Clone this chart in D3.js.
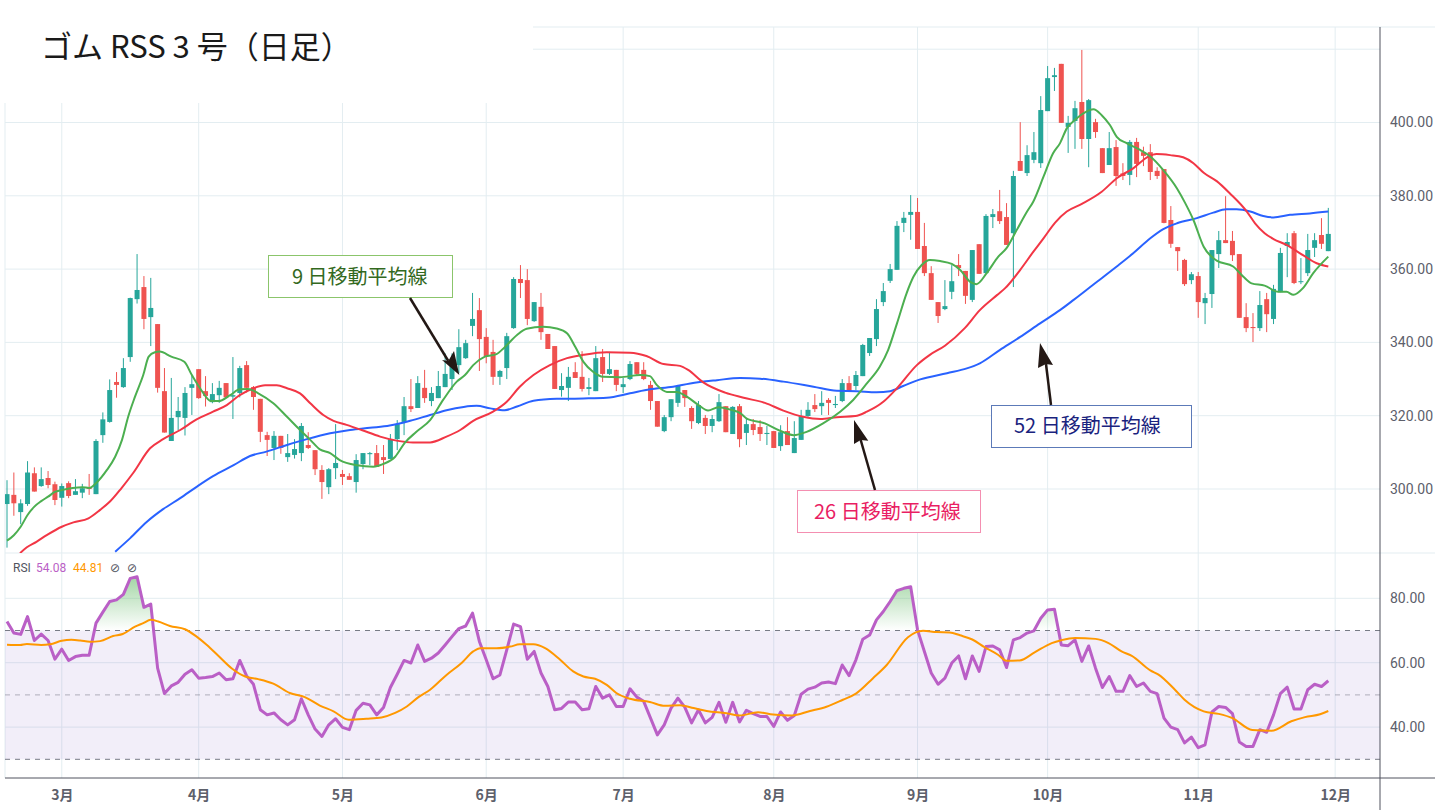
<!DOCTYPE html>
<html>
<head>
<meta charset="utf-8">
<script src="https://cdn.jsdelivr.net/npm/d3@7"></script>
<style>
html, body { margin: 0; padding: 0; background: #fff; overflow: hidden; }
</style>
</head>
<body>
<script>
var opens = [
  295.9,298.4,293.7,295.9,304.3,300.8,303.0,301.3,297.6,301.6,
  298.4,299.0,300.5,298.6,314.7,318.3,329.2,327.8,336.0,351.8,
  355.1,346.9,345.0,326.7,313.1,319.6,319.4,327.6,332.7,326.7,
  323.7,325.6,328.9,325.2,326.2,333.8,327.8,324.6,314.7,311.2,
  314.5,308.7,309.3,309.8,312.0,310.6,305.2,300.5,305.7,304.1,
  303.5,301.9,306.8,309.5,309.8,308.7,308.2,313.6,318.3,322.6,
  322.1,327.6,324.0,324.8,327.8,330.0,333.8,335.7,344.5,348.8,
  341.5,337.4,330.6,333.0,343.9,357.3,357.0,345.8,349.7,342.3,
  339.0,327.0,327.6,331.9,330.6,327.3,326.7,336.0,331.4,332.5,
  327.8,330.0,334.6,332.5,328.4,324.0,315.8,319.6,323.5,327.0,
  322.1,318.0,319.4,317.2,318.5,322.6,315.0,322.6,315.3,317.7,
  316.9,315.0,315.8,311.7,315.8,309.8,313.4,319.9,322.9,322.6,
  324.3,322.9,324.0,328.9,328.1,330.8,337.1,340.9,351.0,356.8,
  359.8,372.6,374.8,375.6,366.3,358.9,351.0,349.1,353.8,361.1,
  359.5,351.6,366.8,358.9,374.2,375.8,374.2,369.8,389.5,386.2,
  389.8,388.9,403.1,412.4,416.0,398.8,400.4,405.6,395.5,400.1,
  393.0,388.4,393.3,386.1,385.7,394.7,391.9,391.9,386.8,387.3,
  373.4,366.0,362.5,357.0,358.1,350.7,353.2,364.1,367.9,367.7,
  364.1,346.9,344.2,343.9,351.8,346.4,353.7,366.3,369.8,356.5,
  358.9,365.8,369.3,364.9
];
var highs = [
  302.4,304.5,297.2,307.6,305.9,305.9,304.9,302.0,301.5,302.1,
  302.7,301.4,304.1,313.6,320.9,329.9,331.9,335.7,352.2,364.1,
  358.1,357.6,345.0,333.0,330.3,325.1,327.8,331.1,332.7,330.8,
  328.9,329.5,328.9,336.0,333.6,334.9,328.1,324.6,315.6,315.8,
  314.5,315.0,313.6,318.0,315.5,310.6,306.5,305.7,317.7,305.2,
  304.3,309.5,309.8,310.1,312.0,312.0,315.0,318.8,325.1,330.0,
  330.8,332.5,327.8,332.2,337.0,337.0,343.6,340.7,353.5,352.1,
  343.9,340.7,332.5,342.6,357.8,361.1,360.0,351.0,353.5,342.3,
  339.0,331.6,333.3,334.6,337.6,330.3,339.0,338.2,337.4,332.5,
  330.3,334.9,334.6,334.6,329.5,324.0,320.2,324.5,328.4,327.0,
  322.6,324.0,320.2,320.2,325.9,322.6,322.6,323.2,319.4,319.1,
  318.8,317.2,315.8,317.4,319.6,318.5,321.6,323.7,325.9,326.7,
  324.8,325.4,330.0,330.8,332.2,339.6,341.2,351.8,356.2,361.4,
  373.1,375.6,380.2,379.4,372.6,360.8,351.0,357.0,361.1,364.1,
  359.5,365.2,366.8,375.0,376.4,381.6,378.0,386.8,400.1,393.8,
  397.4,407.2,415.4,414.9,416.0,401.8,405.9,419.8,406.4,401.0,
  393.0,397.4,395.2,388.9,395.2,395.8,393.4,394.1,387.8,387.3,
  377.2,366.0,362.8,359.2,359.2,353.5,365.2,370.4,379.9,370.4,
  364.1,350.7,348.0,354.0,353.5,355.7,365.8,369.8,370.4,363.0,
  369.6,369.8,373.9,376.7
];
var lows = [
  284.0,292.7,290.4,295.4,299.3,300.6,300.2,295.6,295.2,297.5,
  298.4,297.5,298.4,298.6,312.6,318.1,324.9,327.6,334.7,350.6,
  343.6,339.0,326.3,315.4,313.1,316.1,314.6,320.2,324.6,322.5,
  323.4,323.5,325.0,319.1,325.0,326.3,321.6,312.8,309.0,307.9,
  309.6,307.4,308.3,307.6,310.9,303.8,297.3,298.6,302.7,301.1,
  302.5,299.0,305.4,306.5,306.0,304.1,308.2,310.6,314.7,321.0,
  322.1,323.5,322.6,324.8,327.8,327.0,331.6,335.5,341.7,332.2,
  334.3,328.4,328.4,330.0,343.7,352.1,344.7,345.6,340.7,338.2,
  327.3,325.2,324.0,330.3,326.6,325.6,326.7,329.2,331.1,326.7,
  326.2,329.7,331.1,329.7,321.6,317.0,315.5,318.5,322.4,322.4,
  316.4,317.7,315.0,315.5,318.3,315.5,315.0,311.4,312.0,314.7,
  313.1,312.0,311.2,310.4,312.0,309.8,313.4,319.7,321.0,320.2,
  320.2,322.1,323.7,326.5,327.0,330.8,336.3,339.0,349.9,356.2,
  359.8,370.1,368.0,365.5,358.1,351.6,345.3,348.8,351.8,358.1,
  350.5,351.0,358.7,358.8,371.2,372.3,366.6,355.1,386.8,385.4,
  388.9,387.6,403.1,408.6,399.9,391.7,392.8,392.8,387.8,395.8,
  386.2,388.4,382.7,384.3,382.9,385.1,388.1,384.3,384.6,372.5,
  365.8,359.5,355.4,355.9,346.7,345.0,349.4,360.3,367.1,362.2,
  346.7,342.8,340.1,343.1,342.8,345.0,353.7,357.8,355.9,355.9,
  358.1,363.3,365.5,364.9
];
var closes = [
  298.6,296.1,296.1,304.5,299.3,302.7,301.1,297.0,300.8,298.1,
  299.4,300.2,300.0,313.1,319.0,327.0,328.4,333.0,352.1,354.3,
  346.4,349.4,327.6,315.4,319.4,321.3,326.2,328.6,324.8,325.4,
  325.9,327.6,325.0,325.6,333.0,327.6,325.1,315.6,313.4,314.5,
  311.2,309.8,310.9,317.2,311.2,305.4,301.9,305.4,307.1,303.3,
  302.5,307.9,309.8,309.8,306.0,307.9,313.6,317.7,322.6,321.8,
  328.9,324.8,326.2,328.1,331.4,333.8,338.7,339.8,346.4,340.9,
  336.3,330.6,332.2,341.7,357.3,356.2,346.4,351.0,342.8,338.2,
  327.3,328.1,330.6,330.3,327.3,327.8,335.7,331.4,332.7,328.4,
  328.6,334.1,331.4,330.0,324.0,317.0,319.6,324.5,328.1,324.8,
  318.5,322.9,317.2,319.1,323.7,315.5,322.4,313.6,317.7,316.1,
  315.0,315.3,311.2,315.5,312.0,313.9,319.9,321.6,321.8,323.5,
  323.5,323.2,328.9,326.5,331.1,339.3,341.2,349.1,354.0,360.0,
  371.8,374.0,375.6,365.5,358.9,351.6,347.2,349.9,356.7,360.3,
  352.7,365.2,358.7,374.5,375.0,373.1,366.6,385.4,386.8,391.1,
  391.9,403.4,412.1,412.9,399.9,399.9,403.9,395.5,406.1,397.4,
  386.2,393.0,385.4,385.4,394.7,388.7,390.9,386.5,385.4,372.6,
  366.9,364.9,355.9,358.6,351.0,352.1,365.2,367.9,367.1,363.8,
  346.7,343.9,343.9,350.2,347.7,354.6,364.4,367.4,356.2,356.7,
  365.2,367.9,366.9,369.6
];

// moving averages at the bar positions below
var ma9Bars = [0,1,2,3,4,5,6,7,8,9.6,11,12,13,14.6,15.8,16.8,17.7,18.7,19.9,20.7,21.6,22.3,24,25.9,27,28.2,29.8,30.9,32.6,34,35.2,36.7,38.9,40.9,42.8,44.3,45.7,47.2,48.6,51.1,53.5,54.9,56.7,58.1,59.8,61.8,63.7,65.7,66.9,68.1,69.8,71.5,72.7,74.5,75.9,78.3,80.3,81.8,83,84.2,85.6,87.1,89.5,92.5,93.9,94.9,96.4,97.8,99.3,101,102.4,103.9,105.6,107.1,108,110.7,112.9,114.9,116.8,119.2,121.7,123.6,125.6,127.5,128.7,130,131.4,132.4,133.6,134.8,136.3,138,139.2,140.7,141.6,143.1,144.8,146,147.5,149,149.9,151.4,152.8,153.8,154.8,156,157.4,158.7,159.9,161.1,162.1,163.6,165.5,167,168.9,170.9,172.1,173.3,174.8,176.7,179.1,180.6,181.8,183.7,185.7,186.9,187.9,189.3,190.8,193];
var ma9Values = [285.9,287.4,289.7,292.9,295.2,296.7,297.9,299.2,299.7,300.3,300.5,300.3,301.6,305.2,308.8,313.4,319.7,325.2,331.1,336.1,337.3,337.5,336.1,334.7,331.1,327.5,324.0,324.0,325.6,327.2,327.3,326.1,323.4,319.7,316.1,313.4,310.8,309.8,307.9,306.5,306.1,306.8,308.8,312.6,315.6,318.8,324.3,329.3,331.1,333.8,336.1,336.8,338.7,342.0,343.7,344.3,343.8,342.5,338.8,334.7,332.0,330.6,330.5,331.1,330.8,328.4,326.5,326.5,325.2,322.9,321.4,322.3,321.7,320.7,319.3,317.9,315.9,314.7,315.6,317.9,321.1,324.3,328.8,333.4,337.9,345.2,353.4,357.9,361.1,362.5,362.2,361.4,359.8,356.5,355.9,358.9,363.4,365.7,370.7,375.7,378.4,385.2,391.6,394.3,398.4,400.7,402.7,403.6,402.0,399.3,396.1,394.3,392.5,390.7,387.0,382.0,378.0,373.4,366.1,362.3,360.7,357.9,356.1,355.5,353.8,353.8,353.0,354.8,358.9,363.4];

var ma26Bars = [1.9,2.9,4.3,5.8,8,9.7,11.9,13.6,15,16.7,18.4,20.9,22.8,25.3,27.7,30.1,32.1,34,36,37.7,39.4,40.9,42.8,44.3,46.2,47.7,49.6,51.8,54.5,56.9,59.3,61.8,64.2,66.2,68.1,71,73,74.9,76.9,79.3,81.8,84.2,87.6,91,93.4,95.9,98.3,99.5,101.7,104.9,107.6,110.7,113.4,116.3,118.8,121.2,123.9,125.6,128,130,132.9,134.8,137,139.9,142.1,144.6,145.8,148,149.9,151.4,153.1,154.8,157,159.9,162.1,164.5,166.7,167.9,169.9,171.8,173.3,174.8,176.7,178.6,181.1,182.3,183.7,185,186.9,189.3,191.3,193];
var ma26Values = [282.5,284.1,285.6,287.4,289.7,290.9,292.0,294.3,296.5,300.2,304.3,311.1,313.6,316.1,319.0,321.1,322.9,325.6,327.5,328.3,328.3,327.5,326.1,323.4,320.2,318.6,317.5,316.1,314.3,313.2,312.7,312.7,314.3,316.1,318.6,321.1,323.8,327.9,331.1,333.8,335.7,336.6,337.3,337.2,336.3,334.1,333.6,332.5,329.1,326.3,324.9,323.5,321.4,319.7,319.1,319.6,319.9,321.1,323.8,327.5,333.8,336.6,339.1,343.9,348.8,352.9,354.8,359.8,364.7,368.4,372.7,375.7,377.8,381.1,384.8,387.5,390.7,391.4,391.1,390.5,388.9,386.3,384.0,380.7,375.7,372.5,369.8,368.2,366.6,363.8,361.6,360.7];

var ma52Bars = [15.8,18,20.4,22.8,25.3,27.7,30.1,33.1,35.5,37.9,40.9,43.8,47.2,50.1,53,55.9,58.9,61.8,64.2,66.7,68.6,70.6,72.7,74.5,76.9,80.3,84.2,87.6,91,93.9,97.3,99.8,103.7,107.1,110,113.4,117.8,121.2,124.1,127,129,130.9,133.4,137.3,140.2,142.1,145,148,150.9,153.8,155.8,158.7,162.1,164.5,167,168.9,170.9,173.8,176.2,178.1,179.6,181.6,183.5,185,187.4,190.3,193];
var ma52Values = [282.9,286.6,291.0,294.5,297.5,300.6,303.5,306.5,309.0,310.2,312.0,313.6,315.2,316.1,316.7,317.3,318.6,320.2,321.5,322.4,322.7,322.0,321.5,322.5,324.1,324.6,324.7,324.9,326.1,327.2,327.9,328.8,329.7,330.3,330.1,329.3,327.9,326.8,326.7,326.4,326.7,328.1,329.9,331.6,332.9,334.3,337.9,341.5,345.2,348.8,351.6,355.8,360.7,364.3,368.4,370.9,372.5,373.9,375.4,376.3,376.3,375.7,374.5,374.1,374.8,375.2,375.7];

var rsiValues = [
  72.8,69.2,68.8,74.3,66.9,68.9,66.9,61.1,64.2,60.7,
  61.9,62.3,62.3,72.3,75.7,79.0,79.5,81.2,86.2,86.7,
  77.2,78.2,58.3,50.4,52.8,53.9,56.4,57.8,55.2,55.4,
  55.7,56.8,54.7,55.0,60.7,55.9,53.3,45.4,43.8,44.4,
  42.3,40.7,42.3,48.8,43.8,39.4,37.1,40.7,42.6,39.9,
  39.2,45.2,47.4,46.9,43.8,46.1,52.3,56.4,60.7,59.9,
  65.5,60.4,61.4,63.0,65.5,68.1,70.6,71.4,75.4,66.6,
  60.9,55.0,56.2,64.0,72.0,71.2,61.1,63.5,56.8,52.6,
  45.4,45.8,47.8,47.8,45.4,45.7,52.6,49.0,50.0,46.4,
  46.4,51.9,49.3,48.0,42.8,37.6,40.7,45.9,49.0,46.2,
  41.3,45.4,41.3,43.0,47.7,41.5,47.7,41.6,45.2,44.2,
  43.3,43.3,40.2,44.7,42.1,43.6,50.2,51.8,52.4,53.7,
  54.0,53.5,59.3,56.0,60.9,67.3,68.6,73.3,75.9,79.0,
  82.4,83.1,83.6,70.2,63.5,56.8,53.3,55.2,59.9,62.1,
  55.0,62.1,57.3,65.0,65.2,64.0,58.5,67.1,67.8,69.2,
  69.9,73.8,76.4,76.6,65.5,65.3,67.1,60.4,65.2,58.3,
  52.3,55.7,51.1,51.1,56.0,52.6,53.7,51.1,50.4,42.8,
  40.0,39.2,35.1,36.9,33.6,34.5,44.7,46.4,46.1,44.2,
  35.4,34.0,34.0,39.2,38.4,43.8,50.4,52.4,45.6,45.6,
  51.6,53.3,52.6,54.4
];
var rsiMaBars = [0,1.9,2.9,5,6.3,8,9.4,10.7,12.1,13.6,15.5,16.9,18.7,19.9,21,22.1,23.8,26,27.7,29.2,30.9,32.8,34.8,36.7,38.9,41.3,43.5,45.7,47.7,49.9,52.5,54.7,56.7,58.4,60.1,61.8,64.2,66.4,68.1,69.1,71.5,73.5,74.9,76.9,78.6,80.8,82.7,84.2,85.9,87.6,89,91,93.9,96.1,98.3,100.3,102.2,105.1,107,109.7,111.9,114.6,117.3,119.7,122.1,124,126.5,128.5,131.6,133.8,135.8,137.7,139.2,141,142.8,144.8,146,147.9,150.1,152.6,154,156,159,160.9,162.8,164.3,167,168.2,170.6,172,174.8,177,179,181.9,184.7,187.6,189.6,191.8,193];
var rsiMaValues = [65.6,65.5,65.8,65.5,65.7,66.8,67.1,66.9,66.5,66.7,68.3,68.9,71.2,72.3,73.3,72.8,71.4,70.4,68.1,65.5,62.1,58.3,55.7,54.9,53.5,50.6,49.3,46.7,44.9,42.3,42.6,43.0,44.4,46.4,49.3,51.6,56.2,59.9,63.5,64.5,64.5,65.0,65.7,65.7,64.5,60.9,57.3,55.7,55.0,53.1,50.6,48.8,47.8,46.6,46.8,45.9,45.0,44.3,43.6,44.6,43.9,43.6,45.0,46.3,48.5,50.4,55.2,59.3,67.9,69.9,69.5,69.4,68.5,67.2,64.8,62.4,60.6,60.7,63.2,66.1,67.0,67.7,67.4,66.1,63.5,62.1,57.6,56.3,51.6,48.5,44.9,44.1,42.8,39.1,38.9,41.8,43.1,44.0,45.0];

var priceTicks = [300, 320, 340, 360, 380, 400];
var priceGrid = [300, 320, 340, 360, 380, 400, 420];
var rsiTicks = [40, 60, 80];
var rsiLevels = [30, 50, 70];
var monthBars = [8, 28, 49, 70, 90, 112, 133, 152, 174, 194];
var monthLabels = ['3月', '4月', '5月', '6月', '7月', '8月', '9月', '10月', '11月', '12月'];

var WIDTH = 1435, HEIGHT = 810;
var LEFT = 5, RIGHT = 1380, TOP = 27;
var PANE_BOTTOM = 553, AXIS_Y = 778;
var BODY_WIDTH = 5;
var UP = '#26a69a', DOWN = '#ef5350';
var GRID = '#e3edf1';
var CJK = '"Noto Sans CJK JP", sans-serif';

var svg = d3.select('body').append('svg')
  .attr('width', WIDTH)
  .attr('height', HEIGHT)
  .style('display', 'block');

var x = d3.scaleLinear().domain([0, 193]).range([7, 1328.3]);
var y = d3.scaleLinear().domain([300, 400]).range([489, 122.5]);
var yRsi = d3.scaleLinear().domain([30, 80]).range([759.3, 598.3]);

var defs = svg.append('defs');
defs.append('clipPath').attr('id', 'pane')
  .append('rect')
    .attr('x', LEFT).attr('y', TOP)
    .attr('width', RIGHT - LEFT).attr('height', PANE_BOTTOM - TOP);
defs.append('clipPath').attr('id', 'overbought')
  .append('rect')
    .attr('x', LEFT).attr('y', PANE_BOTTOM)
    .attr('width', RIGHT - LEFT).attr('height', yRsi(70) - PANE_BOTTOM);
var grad = defs.append('linearGradient').attr('id', 'obFill')
  .attr('gradientUnits', 'userSpaceOnUse')
  .attr('x1', 0).attr('x2', 0)
  .attr('y1', 578).attr('y2', yRsi(70));
grad.append('stop').attr('offset', 0).attr('stop-color', '#4caf50').attr('stop-opacity', .5);
grad.append('stop').attr('offset', 1).attr('stop-color', '#4caf50').attr('stop-opacity', 0);

// grid
svg.append('g').selectAll('line')
  .data(monthBars)
  .enter().append('line')
    .attr('x1', function (d) { return x(d); })
    .attr('x2', function (d) { return x(d); })
    .attr('y1', TOP).attr('y2', AXIS_Y)
    .style('stroke', GRID);
svg.append('g').selectAll('line')
  .data(priceGrid)
  .enter().append('line')
    .attr('x1', LEFT).attr('x2', RIGHT)
    .attr('y1', function (d) { return y(d); })
    .attr('y2', function (d) { return y(d); })
    .style('stroke', GRID);
svg.append('g').selectAll('line')
  .data(rsiTicks)
  .enter().append('line')
    .attr('x1', LEFT).attr('x2', RIGHT)
    .attr('y1', function (d) { return yRsi(d); })
    .attr('y2', function (d) { return yRsi(d); })
    .style('stroke', GRID);
svg.append('line')
  .attr('x1', LEFT).attr('x2', LEFT)
  .attr('y1', 103).attr('y2', AXIS_Y)
  .style('stroke', GRID);
svg.append('line')
  .attr('x1', LEFT).attr('x2', WIDTH)
  .attr('y1', TOP).attr('y2', TOP)
  .style('stroke', GRID);
svg.append('line')
  .attr('x1', LEFT).attr('x2', WIDTH)
  .attr('y1', PANE_BOTTOM).attr('y2', PANE_BOTTOM)
  .style('stroke', GRID);

// candles
var bars = d3.range(opens.length);
var candles = svg.append('g').attr('clip-path', 'url(#pane)');
function candleColor(i) {
  return closes[i] >= opens[i] ? UP : DOWN;
}
candles.selectAll('line')
  .data(bars)
  .enter().append('line')
    .attr('x1', function (i) { return x(i); })
    .attr('x2', function (i) { return x(i); })
    .attr('y1', function (i) { return y(highs[i]); })
    .attr('y2', function (i) { return y(lows[i]); })
    .style('stroke', candleColor)
    .style('stroke-width', 1);
candles.selectAll('rect')
  .data(bars)
  .enter().append('rect')
    .attr('x', function (i) { return x(i) - BODY_WIDTH / 2; })
    .attr('y', function (i) { return y(Math.max(opens[i], closes[i])); })
    .attr('width', BODY_WIDTH)
    .attr('height', function (i) {
      return Math.max(1, Math.abs(y(opens[i]) - y(closes[i])));
    })
    .style('fill', candleColor);

// moving averages
function drawLine(parent, xs, ys, scale, color, width) {
  var line = d3.line()
    .x(function (d) { return x(d); })
    .y(function (d, i) { return scale(ys[i]); })
    .curve(d3.curveMonotoneX);
  return parent.append('path')
    .attr('d', line(xs))
    .style('fill', 'none')
    .style('stroke', color)
    .style('stroke-width', width)
    .style('stroke-linejoin', 'round');
}
var maGroup = svg.append('g').attr('clip-path', 'url(#pane)');
drawLine(maGroup, ma52Bars, ma52Values, y, '#2962ff', 2);
drawLine(maGroup, ma26Bars, ma26Values, y, '#f23645', 2);
drawLine(maGroup, ma9Bars, ma9Values, y, '#4caf50', 2);

// RSI pane
svg.append('rect')
  .attr('x', LEFT).attr('width', RIGHT - LEFT)
  .attr('y', yRsi(70)).attr('height', yRsi(30) - yRsi(70))
  .style('fill', '#7e57c2').style('fill-opacity', .1);
svg.append('g').selectAll('line')
  .data(rsiLevels)
  .enter().append('line')
    .attr('x1', LEFT).attr('x2', RIGHT)
    .attr('y1', function (d) { return yRsi(d); })
    .attr('y2', function (d) { return yRsi(d); })
    .style('stroke', '#787b86')
    .style('stroke-opacity', function (d) { return d === 50 ? .55 : 1; })
    .style('stroke-dasharray', '5 5');

var obArea = d3.area()
  .x(function (d) { return x(d); })
  .y0(yRsi(70))
  .y1(function (d) { return yRsi(rsiValues[d]); });
svg.append('path')
  .attr('d', obArea(bars))
  .attr('clip-path', 'url(#overbought)')
  .style('fill', 'url(#obFill)');

var rsiLine = d3.line()
  .x(function (d) { return x(d); })
  .y(function (d) { return yRsi(rsiValues[d]); });
svg.append('path')
  .attr('d', rsiLine(bars))
  .style('fill', 'none')
  .style('stroke', '#ba5fc6')
  .style('stroke-width', 3)
  .style('stroke-linejoin', 'round');
drawLine(svg, rsiMaBars, rsiMaValues, yRsi, '#ff9800', 2);

// white block behind the title
svg.append('rect')
  .attr('x', 0).attr('y', 0)
  .attr('width', 533).attr('height', 103)
  .style('fill', '#fff');

// axes
function styleAxis(g) {
  g.select('.domain').remove();
  g.selectAll('text').style('fill', '#5d606b');
}
svg.append('g')
  .attr('transform', 'translate(' + RIGHT + ',0)')
  .call(d3.axisRight(y).tickValues(priceTicks).tickFormat(d3.format('.2f')).tickSize(0).tickPadding(10))
  .style('font', '14px Roboto')
  .call(styleAxis);
svg.append('g')
  .attr('transform', 'translate(' + RIGHT + ',0)')
  .call(d3.axisRight(yRsi).tickValues(rsiTicks).tickFormat(d3.format('.2f')).tickSize(0).tickPadding(10))
  .style('font', '14px Roboto')
  .call(styleAxis);
svg.append('g')
  .attr('transform', 'translate(0,' + AXIS_Y + ')')
  .call(d3.axisBottom(x).tickValues(monthBars).tickFormat(function (d, i) { return monthLabels[i]; }).tickSize(0).tickPadding(12))
  .style('font', 'bold 14px ' + CJK)
  .call(styleAxis);
svg.append('line')
  .attr('x1', LEFT).attr('x2', WIDTH)
  .attr('y1', AXIS_Y).attr('y2', AXIS_Y)
  .style('stroke', '#50535e');
svg.append('line')
  .attr('x1', RIGHT).attr('x2', RIGHT)
  .attr('y1', TOP).attr('y2', HEIGHT)
  .style('stroke', '#50535e');

// RSI legend
var legend = [
  ['RSI', 13, '#50535e'],
  ['54.08', 36, '#ba5fc6'],
  ['44.81', 73, '#ff9800'],
  ['⊘', 110, '#50535e'],
  ['⊘', 127, '#50535e']
];
svg.append('g').selectAll('text')
  .data(legend)
  .enter().append('text')
    .attr('x', function (d) { return d[1]; })
    .attr('y', 572)
    .style('font', '12px Roboto, "DejaVu Sans"')
    .style('fill', function (d) { return d[2]; })
    .text(function (d) { return d[0]; });

// title
svg.append('text')
  .attr('x', 41).attr('y', 58)
  .style('font', '31px ' + CJK)
  .style('fill', '#1a1a1a')
  .text('ゴム RSS 3 号（日足）');

// callouts
var callouts = [
  {text: '9 日移動平均線', x: 268.5, y: 255.5, w: 184, h: 42, tx: 292, ty: 284, stroke: '#8bc56b', color: '#33691e'},
  {text: '26 日移動平均線', x: 797.5, y: 490.5, w: 183, h: 42, tx: 814, ty: 519, stroke: '#f48fb1', color: '#e91e63'},
  {text: '52 日移動平均線', x: 991.5, y: 405.5, w: 200, h: 42, tx: 1014, ty: 433, stroke: '#5c7ab8', color: '#1a237e'}
];
var box = svg.append('g').selectAll('g')
  .data(callouts)
  .enter().append('g');
box.append('rect')
  .attr('x', function (d) { return d.x; })
  .attr('y', function (d) { return d.y; })
  .attr('width', function (d) { return d.w; })
  .attr('height', function (d) { return d.h; })
  .style('fill', '#fff')
  .style('stroke', function (d) { return d.stroke; });
box.append('text')
  .attr('x', function (d) { return d.tx; })
  .attr('y', function (d) { return d.ty; })
  .style('font', '20px ' + CJK)
  .style('fill', function (d) { return d.color; })
  .text(function (d) { return d.text; });

// arrows: tail, notch, tip, two barbs
var arrows = [
  {tail: [410, 298], notch: [448.3, 361], tip: [459.3, 375], a: [442, 360], b: [454, 351]},
  {tail: [875, 490], notch: [860.7, 440], tip: [854, 420], a: [854, 444], b: [868.3, 440.7]},
  {tail: [1051, 405], notch: [1046, 364], tip: [1040, 343], a: [1038, 368], b: [1053, 365]}
];
var arrowG = svg.append('g').selectAll('g')
  .data(arrows)
  .enter().append('g');
arrowG.append('line')
  .attr('x1', function (d) { return d.tail[0]; })
  .attr('y1', function (d) { return d.tail[1]; })
  .attr('x2', function (d) { return d.notch[0]; })
  .attr('y2', function (d) { return d.notch[1]; })
  .style('stroke', '#231815')
  .style('stroke-width', 2.5);
arrowG.append('path')
  .attr('d', function (d) { return d3.line()([d.tip, d.a, d.notch, d.b]) + 'Z'; })
  .style('fill', '#231815');
</script>
</body>
</html>
